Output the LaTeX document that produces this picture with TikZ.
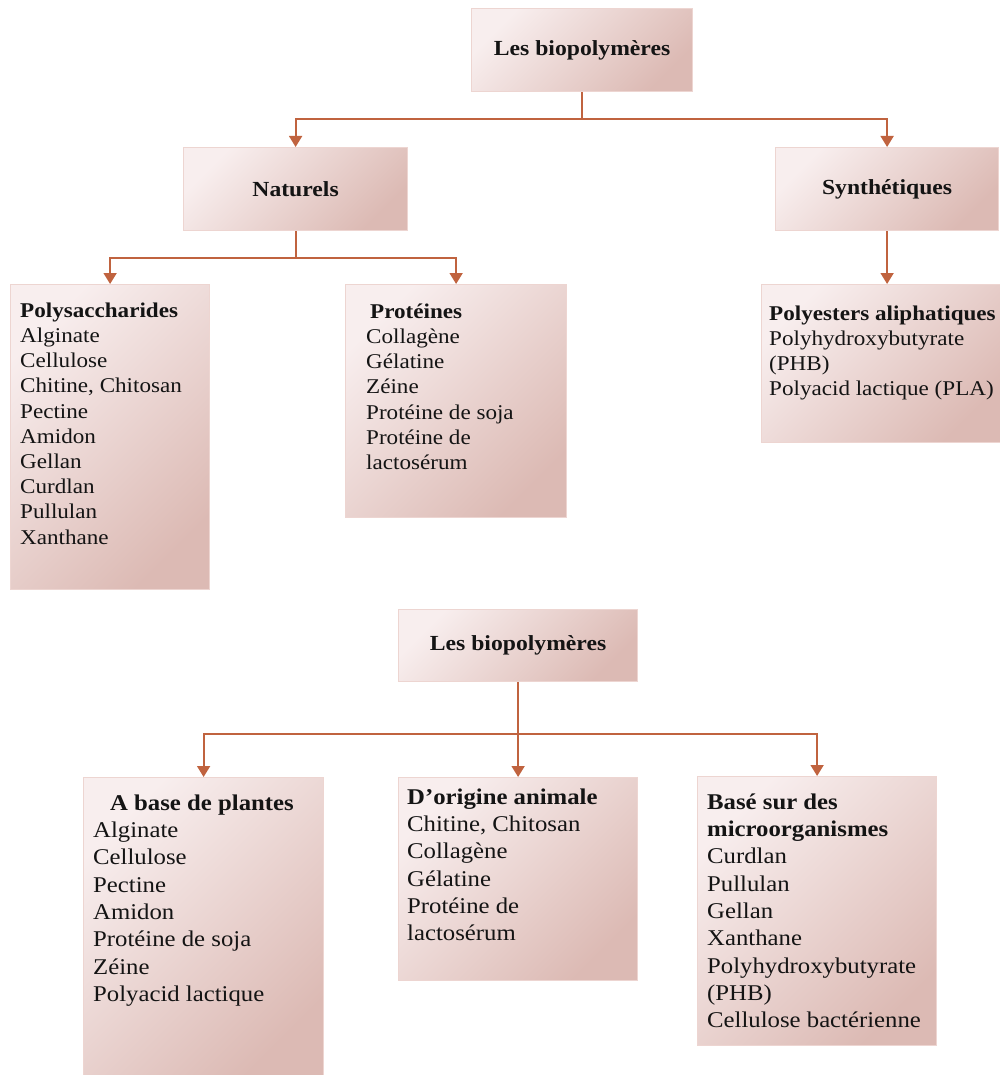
\documentclass[tikz,border=0pt]{standalone}
\usepackage{fontspec}
\setmainfont[FakeStretch=1.1]{Liberation Serif}
\usetikzlibrary{arrows.meta,calc}
\definecolor{lnk}{HTML}{C0633F}
\definecolor{boxA}{HTML}{F8EEEE}
\definecolor{boxB}{HTML}{DCBAB4}
\definecolor{boxE}{HTML}{EDD5D1}
\definecolor{txt}{HTML}{141414}
\tikzset{
  bx/.style={draw=boxE, line width=1.2pt, top color=boxA, bottom color=boxB, shading angle=45, inner sep=0pt, anchor=north west},
  conn/.style={draw=lnk, line width=1.8pt},
  arr/.style={conn, -{Triangle[width=13pt,length=11pt]}},
  ttl/.style={font=\fontsize{21.5}{25}\selectfont\bfseries, text=txt, inner sep=0pt},
  lstA/.style={font=\fontsize{21}{25.2}\selectfont, text=txt, align=left, anchor=north west, inner sep=0pt},
  lstB/.style={font=\fontsize{22.5}{27.3}\selectfont, text=txt, align=left, anchor=north west, inner sep=0pt},
}
\newcommand{\fl}{\rule{0pt}{16pt}}
\begin{document}
\begin{tikzpicture}[x=1pt,y=-1pt]
\useasboundingbox (0,0) rectangle (1000,1075);
% --- top tree ---
\node[bx, minimum width=221pt, minimum height=83pt] (T) at (471,8) {};
\node[ttl] (Tt) at (T.center) {Les biopolymères};
\node[bx, minimum width=224pt, minimum height=83pt] (N) at (183,147) {};
\node[ttl] (Nt) at (N.center) {Naturels};
\node[bx, minimum width=223pt, minimum height=83pt] (S) at (775,147) {};
\node[ttl] (St) at (S.center) {Synthétiques};
\node[bx, minimum width=199pt, minimum height=305pt] (P) at (10,284) {};
\node[lstA] (Pt) at (20,301) {\fl\textbf{Polysaccharides}\\Alginate\\Cellulose\\Chitine, Chitosan\\Pectine\\Amidon\\Gellan\\Curdlan\\Pullulan\\Xanthane};
\node[bx, minimum width=221pt, minimum height=233pt] (R) at (345,284) {};
\node[lstA] (Rt) at (366,302) {\fl\hspace{4pt}\textbf{Protéines}\\Collagène\\Gélatine\\Zéine\\Protéine de soja\\Protéine de\\lactosérum};
\node[bx, minimum width=240pt, minimum height=158pt] (E) at (761,284) {};
\node[lstA] (Et) at (769,304) {\fl\textbf{Polyesters aliphatiques}\\Polyhydroxybutyrate\\(PHB)\\Polyacid lactique (PLA)};
\coordinate (j1) at ($(T.south)+(0,27)$);
\draw[conn] (T.south) -- (j1);
\draw[arr] (j1) -| (N.north);
\draw[arr] (j1) -| (S.north);
\coordinate (j2) at ($(N.south)+(0,27)$);
\draw[conn] (N.south) -- (j2);
\draw[arr] (j2) -| (P.north);
\draw[arr] (j2) -| (R.north);
\draw[arr] (S.south) -- (S.south |- E.north);
% --- bottom tree ---
\node[bx, minimum width=239pt, minimum height=72pt] (B) at (398,609) {};
\node[ttl] (Bt) at (B.center) {Les biopolymères};
\node[bx, minimum width=240pt, minimum height=300pt] (L) at (83,777) {};
\node[lstB] (Lt) at (93,794) {\fl\hspace{17pt}\textbf{A base de plantes}\\Alginate\\Cellulose\\Pectine\\Amidon\\Protéine de soja\\Zéine\\Polyacid lactique};
\node[bx, minimum width=239pt, minimum height=203pt] (M) at (398,777) {};
\node[lstB] (Mt) at (407,788) {\fl\textbf{D’origine animale}\\Chitine, Chitosan\\Collagène\\Gélatine\\Protéine de\\lactosérum};
\node[bx, minimum width=239pt, minimum height=269pt] (K) at (697,776) {};
\node[lstB] (Kt) at (707,793) {\fl\textbf{Basé sur des}\\\textbf{microorganismes}\\Curdlan\\Pullulan\\Gellan\\Xanthane\\Polyhydroxybutyrate\\(PHB)\\Cellulose bactérienne};
\coordinate (j3) at ($(B.south)+(0,52)$);
\draw[arr] (B.south) -- (M.north);
\draw[arr] (j3) -| (L.north);
\draw[arr] (j3) -| (K.north);
\end{tikzpicture}
\end{document}
